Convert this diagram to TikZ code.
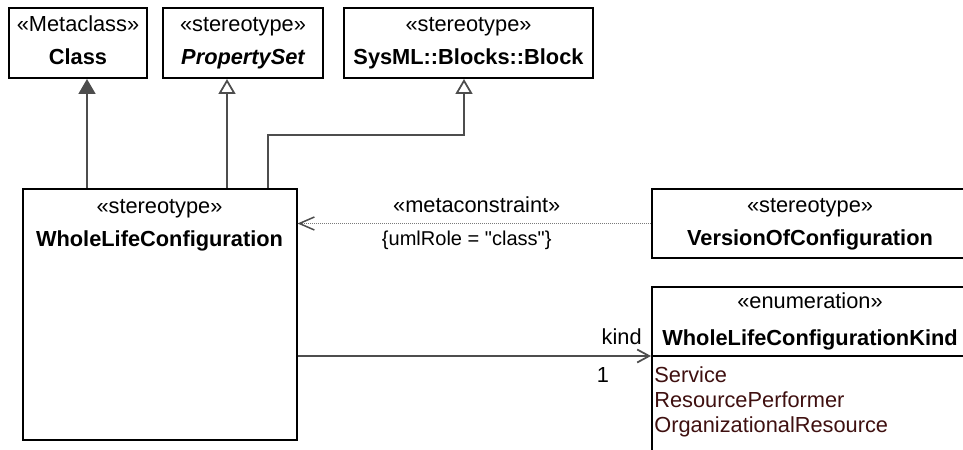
\documentclass[tikz,border=0pt]{standalone}
\usepackage{fontspec}
\setmainfont{Liberation Sans}
\usetikzlibrary{arrows.meta,positioning,calc}
\definecolor{linegray}{HTML}{4D4D4D}
\definecolor{dotgray}{HTML}{7A7A7A}
\definecolor{litred}{HTML}{3F1010}
\font\plainquotefont="Liberation Sans" at 11.4pt
\newcommand{\straightquote}{{\plainquotefont\char34}}

\begin{document}
\begin{tikzpicture}[
    font=\fontsize{12.4}{15}\selectfont,
    box/.style={draw=black, line width=0.04cm, minimum height=1.4cm, inner sep=0pt, fill=white},
    stereo/.style={inner sep=0pt, anchor=base},
    headname/.style={stereo, font=\fontsize{12.4}{15}\selectfont\bfseries},
    literal/.style={inner sep=0pt, anchor=base west, text=litred},
    role/.style={inner sep=0pt, font=\fontsize{11.4}{14}\selectfont},
    gen/.style={draw=linegray, line width=0.035cm, -{Triangle[open, length=0.3cm, width=0.34cm]}},
    metagen/.style={draw=linegray, line width=0.035cm, -{Triangle[length=0.3cm, width=0.34cm, fill=linegray]}},
    dep/.style={draw=dotgray, line width=0.03cm, dash pattern=on 0.02cm off 0.02cm, -{Straight Barb[length=0.3cm, width=0.26cm, linegray]}},
    assoc/.style={draw=linegray, line width=0.035cm, -{Straight Barb[length=0.24cm, width=0.26cm]}},
]

    \useasboundingbox (0,0) rectangle (19.26,8.98);
    \clip (0,0) rectangle (19.26,8.98);

    % --- Top row ---
    \node[box, minimum width=2.76cm] (cls) at (1.56, 8.12) {};
    \node[stereo] (cls_st) at ($(cls.north)+(0,-0.5)$) {«Metaclass»};
    \node[headname] (cls_nm) at ($(cls.north)+(0,-1.16)$) {Class};

    \node[box, minimum width=3.20cm] (pset) at (4.86, 8.12) {};
    \node[stereo] (pset_st) at ($(pset.north)+(0,-0.5)$) {«stereotype»};
    \node[headname, font=\fontsize{12.4}{15}\selectfont\bfseries\itshape] (pset_nm) at ($(pset.north)+(0,-1.16)$) {PropertySet};

    \node[box, minimum width=4.98cm] (blk) at (9.37, 8.12) {};
    \node[stereo] (blk_st) at ($(blk.north)+(0,-0.5)$) {«stereotype»};
    \node[headname] (blk_nm) at ($(blk.north)+(0,-1.16)$) {SysML::Blocks::Block};

    % --- WholeLifeConfiguration ---
    \node[box, minimum width=5.48cm, minimum height=5.01cm] (wlc) at (3.19, 2.69) {};
    \node[stereo] (wlc_st) at ($(wlc.north)+(0,-0.5)$) {«stereotype»};
    \node[headname] (wlc_nm) at ($(wlc.north)+(0,-1.16)$) {WholeLifeConfiguration};

    % --- Right column ---
    \node[box, minimum width=6.32cm, minimum height=1.38cm] (voc) at (16.20, 4.51) {};
    \node[stereo] (voc_st) at ($(voc.north)+(0,-0.5)$) {«stereotype»};
    \node[headname] (voc_nm) at ($(voc.north)+(0,-1.16)$) {VersionOfConfiguration};

    \node[box, minimum width=6.32cm, minimum height=3.37cm] (enum) at (16.20, 1.56) {};
    \node[stereo] (enum_st) at ($(enum.north)+(0,-0.46)$) {«enumeration»};
    \node[headname] (enum_nm) at ($(enum.north)+(0,-1.19)$) {WholeLifeConfigurationKind};
    \node[literal] (lit1) at ($(enum.north west)+(0.06,-1.93)$) {Service};
    \node[literal] (lit2) at ($(lit1.base west)+(0,-0.5)$) {ResourcePerformer};
    \node[literal] (lit3) at ($(lit2.base west)+(0,-0.5)$) {OrganizationalResource};

    % --- Generalizations ---
    \coordinate (cls_foot) at ([xshift=0.18cm]cls.south);
    \draw[metagen] (cls_foot |- wlc.north) -- (cls_foot);
    \coordinate (pset_foot) at ([xshift=-0.32cm]pset.south);
    \draw[gen] (pset_foot |- wlc.north) -- (pset_foot);
    \coordinate (blk_foot) at ([xshift=-0.09cm]blk.south);
    \draw[gen] ([xshift=2.17cm]wlc.north) |- ($(blk_foot)+(0,-1.12)$) -- (blk_foot);

    % --- Metaconstraint ---
    \draw[dep] (voc.west) -- (voc.west -| wlc.east)
        node[role, midway, anchor=base, xshift=0.05cm, yshift=0.21cm, font=\fontsize{12.4}{15}\selectfont] {«metaconstraint»}
        node[role, midway, anchor=base, xshift=-0.15cm, yshift=-0.44cm] {\{umlRole = \straightquote class\straightquote\}};

    % --- kind association ---
    \coordinate (kind_start) at ([yshift=-0.83cm]wlc.east);
    \draw[line width=0.04cm] (kind_start -| enum.west) -- (kind_start -| enum.east);
    \draw[assoc] (kind_start) -- (kind_start -| enum.west)
        node[pos=1, inner sep=0pt, anchor=base east, xshift=-0.17cm, yshift=0.22cm] {kind}
        node[pos=1, inner sep=0pt, anchor=base, xshift=-0.96cm, yshift=-0.53cm] {1};

\end{tikzpicture}
\end{document}
